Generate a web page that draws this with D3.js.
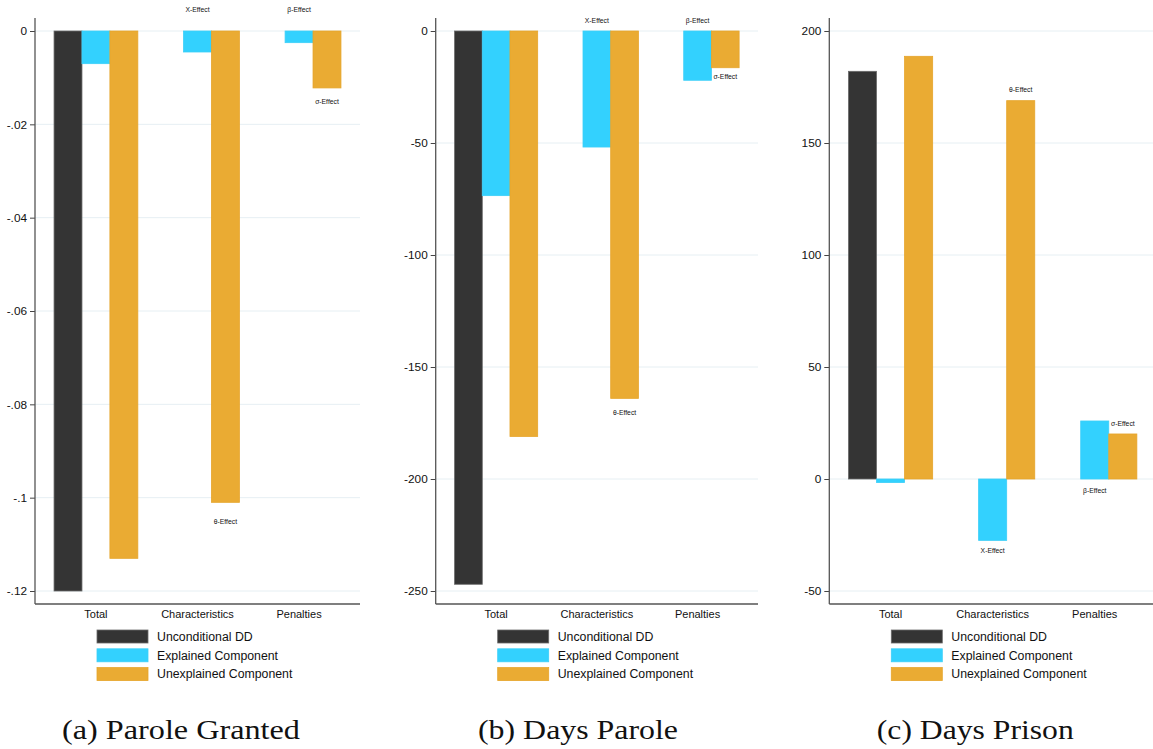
<!DOCTYPE html>
<html><head><meta charset="utf-8">
<script src="https://cdn.jsdelivr.net/npm/d3@7"></script>
<style>
html,body{margin:0;padding:0;background:#fff;}
svg{display:block;}
</style></head>
<body>
<svg id="chart" width="1153" height="749"></svg>
<script>
// ---------- data ----------
const categories = ["Total", "Characteristics", "Penalties"];
const seriesNames = ["Unconditional DD", "Explained Component", "Unexplained Component"];
const seriesColors = ["#343434", "#33d1fe", "#eaab33"];
const seriesStrokes = ["#6a6a6a", "#3ccff8", "#e6a52c"];

// (a) Parole Granted
const paroleUncond = [-0.12, null, null];
const paroleExplained = [-0.007, -0.0045, -0.0025];
const paroleUnexplained = [-0.113, -0.101, -0.0122];
const paroleTicks = [0, -0.02, -0.04, -0.06, -0.08, -0.1, -0.12];
const paroleTickLabels = ["0", "-.02", "-.04", "-.06", "-.08", "-.1", "-.12"];
const paroleEffects = [
  {text: "X-Effect", cat: "Characteristics", s: 1, y: 0.0047},
  {text: "β-Effect", cat: "Penalties", s: 1, y: 0.0047},
  {text: "σ-Effect", cat: "Penalties", s: 2, y: -0.0152},
  {text: "θ-Effect", cat: "Characteristics", s: 2, y: -0.105}
];

// (b) Days Parole
const daysParoleUncond = [-247, null, null];
const daysParoleExplained = [-73.5, -51.8, -22];
const daysParoleUnexplained = [-181, -164, -16.4];
const daysParoleTicks = [0, -50, -100, -150, -200, -250];
const daysParoleTickLabels = ["0", "-50", "-100", "-150", "-200", "-250"];
const daysParoleEffects = [
  {text: "X-Effect", cat: "Characteristics", s: 1, y: 4.6},
  {text: "β-Effect", cat: "Penalties", s: 1, y: 4.6},
  {text: "σ-Effect", cat: "Penalties", s: 2, y: -20.4},
  {text: "θ-Effect", cat: "Characteristics", s: 2, y: -170.2}
];

// (c) Days Prison
const daysPrisonUncond = [182, null, null];
const daysPrisonExplained = [-1.6, -27.4, 25.9];
const daysPrisonUnexplained = [188.7, 168.9, 20.1];
const daysPrisonTicks = [200, 150, 100, 50, 0, -50];
const daysPrisonTickLabels = ["200", "150", "100", "50", "0", "-50"];
const daysPrisonEffects = [
  {text: "θ-Effect", cat: "Characteristics", s: 2, y: 173.7},
  {text: "σ-Effect", cat: "Penalties", s: 2, y: 24.9},
  {text: "β-Effect", cat: "Penalties", s: 1, y: -5.2},
  {text: "X-Effect", cat: "Characteristics", s: 1, y: -32.1}
];

// ---------- layout ----------
const panels = [
  {left: 35, right: 360, domain: [0, -0.12], ticks: paroleTicks, tickLabels: paroleTickLabels,
   series: [paroleUncond, paroleExplained, paroleUnexplained], effects: paroleEffects,
   caption: "(a) Parole Granted", captionW: 238},
  {left: 435.7, right: 758, domain: [0, -250], ticks: daysParoleTicks, tickLabels: daysParoleTickLabels,
   series: [daysParoleUncond, daysParoleExplained, daysParoleUnexplained], effects: daysParoleEffects,
   caption: "(b) Days Parole", captionW: 200},
  {left: 829.3, right: 1156, domain: [200, -50], ticks: daysPrisonTicks, tickLabels: daysPrisonTickLabels,
   series: [daysPrisonUncond, daysPrisonExplained, daysPrisonUnexplained], effects: daysPrisonEffects,
   caption: "(c) Days Prison", captionW: 197}
];
const captionOffsets = [146, 142.3, 146];

const sans = '"Liberation Sans",Arial,Helvetica,sans-serif';
const serif = '"Liberation Serif","Times New Roman",serif';
const svg = d3.select("#chart");
const plotTop = 31, plotBottom = 591, axisTop = 18, axisBottom = 604;

panels.forEach((p, pi) => {
  const g = svg.append("g").style("font-family", sans);
  const y = d3.scaleLinear().domain(p.domain).range([plotTop, plotBottom]);
  const x = d3.scalePoint().domain(categories).range([p.left, p.right]).padding(0.6);
  const barW = x.step() * 0.275;
  const xs = d3.scaleBand().domain(d3.range(3)).range([-1.5 * barW, 1.5 * barW]).padding(0);

  // gridlines
  g.selectAll(".grid").data(p.ticks).join("line")
    .attr("x1", p.left).attr("x2", p.right)
    .attr("y1", d => y(d)).attr("y2", d => y(d))
    .attr("stroke", "#e6eff3").attr("stroke-width", 1);

  // bars
  p.series.forEach((vals, si) => {
    const rows = categories.map((c, i) => ({c, v: vals[i]})).filter(d => d.v !== null);
    g.selectAll(".bar" + si).data(rows).join("rect")
      .attr("x", d => x(d.c) + xs(si))
      .attr("width", xs.bandwidth())
      .attr("y", d => Math.min(y(d.v), y(0)))
      .attr("height", d => Math.abs(y(d.v) - y(0)))
      .attr("fill", seriesColors[si])
      .attr("stroke", seriesStrokes[si]).attr("stroke-width", 0.8);
  });

  // effect labels
  g.selectAll(".eff").data(p.effects).join("text")
    .attr("x", d => x(d.cat) + xs(d.s) + xs.bandwidth() / 2)
    .attr("y", d => y(d.y))
    .attr("text-anchor", "middle").attr("dominant-baseline", "central")
    .attr("fill", "#111")
    .style("font-size", "6.8px").text(d => d.text);

  // y axis
  const yAxis = d3.axisLeft(y).tickValues(p.ticks)
    .tickFormat((d, i) => p.tickLabels[i]).tickSize(5).tickPadding(3);
  const ya = g.append("g").attr("transform", `translate(${p.left},0)`).call(yAxis);
  ya.attr("font-family", null).attr("font-size", null);
  ya.select(".domain").remove();
  ya.selectAll(".tick line").attr("stroke", "#444");
  ya.selectAll(".tick text").attr("fill", "#111")
    .style("font-family", sans).style("font-size", "11.8px");
  g.append("line").attr("x1", p.left).attr("x2", p.left).attr("y1", axisTop).attr("y2", axisBottom)
    .attr("stroke", "#555").attr("stroke-width", 1.3);

  // x axis
  g.append("line").attr("x1", p.left).attr("x2", p.right).attr("y1", axisBottom).attr("y2", axisBottom)
    .attr("stroke", "#555").attr("stroke-width", 1.3);
  g.selectAll(".cat").data(categories).join("text")
    .attr("x", d => x(d)).attr("y", 618)
    .attr("text-anchor", "middle").attr("fill", "#111")
    .style("font-size", "11px").text(d => d);

  // legend
  const lx = p.left + 62;
  const lg = g.append("g");
  seriesNames.forEach((n, i) => {
    const ly = 630 + i * 18.8;
    lg.append("rect").attr("x", lx).attr("y", ly).attr("width", 51).attr("height", 13)
      .attr("fill", seriesColors[i]).attr("stroke", seriesStrokes[i]).attr("stroke-width", 0.8);
    lg.append("text").attr("x", lx + 60).attr("y", ly + 6.8).attr("dominant-baseline", "central")
      .attr("fill", "#111").style("font-size", "12.3px").text(n);
  });

  // caption
  g.append("text").attr("x", p.left + captionOffsets[pi]).attr("y", 739)
    .attr("text-anchor", "middle").attr("fill", "#111")
    .style("font-family", serif)
    .style("font-size", "27.5px")
    .attr("textLength", p.captionW).attr("lengthAdjust", "spacingAndGlyphs")
    .text(p.caption);
});
</script>
</body></html>
